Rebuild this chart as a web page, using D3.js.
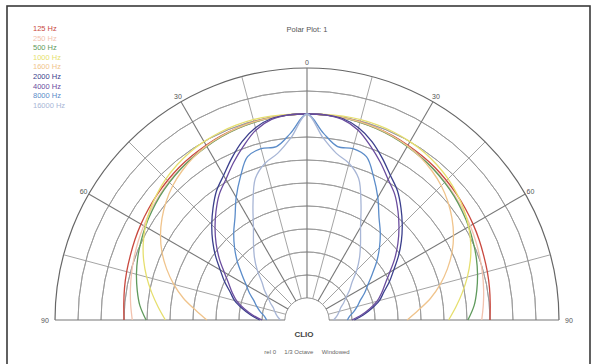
<!DOCTYPE html>
<html><head><meta charset="utf-8">
<script src="https://cdn.jsdelivr.net/npm/d3@7"></script>
<style>html,body{margin:0;padding:0;background:#fff;}svg{display:block;}</style>
</head><body>
<script>
// ---- data ----
const angles = [0,5,10,15,20,25,30,35,40,45,50,55,60,65,70,75,80,85,90];
const seriesNames = ["125 Hz","250 Hz","500 Hz","1000 Hz","1600 Hz","2000 Hz","4000 Hz","8000 Hz","16000 Hz"];
const seriesColors = ["#c9483e","#f2c2ae","#5f9a5c","#e6df6e","#f0c48c","#3b3f8c","#6a4c9e","#5b8cc9","#a8b6d6"];
const db125  = [0,0,-0.1,-0.2,-0.4,-0.6,-0.9,-1.2,-1.5,-1.9,-2.3,-2.7,-3.1,-3.5,-3.9,-4.2,-4.5,-4.8,-5];
const db250  = [0,0,-0.1,-0.3,-0.5,-0.8,-1.1,-1.5,-1.9,-2.3,-2.8,-3.3,-3.8,-4.3,-4.8,-5.3,-5.8,-6.3,-6.8];
const db500  = [0,0,-0.1,-0.3,-0.5,-0.8,-1.2,-1.6,-2,-2.5,-3,-3.6,-4.2,-4.9,-5.6,-6.4,-7.3,-8.3,-9.8];
const db1000 = [0,0.1,0.2,0.3,0.3,0.2,0,-0.3,-0.8,-1.4,-2.2,-3.1,-4.2,-5.5,-7,-8.7,-10.5,-12.3,-14];
const db1600 = [0,0,-0.1,-0.2,-0.4,-0.7,-1.1,-1.7,-2.5,-3.5,-4.8,-6.3,-8,-10,-12.3,-14.8,-17.5,-20.5,-23];
const db2000 = [0,0,-0.3,-1.5,-3.5,-6,-8.5,-10.5,-13,-15.5,-18,-20.5,-23,-25,-27,-28.5,-30.5,-32.5,-34.5];
const db4000 = [0,0,-0.5,-2,-4.5,-7,-9.5,-11.5,-14,-16.5,-19,-21.5,-24,-26,-27.5,-29,-31,-33,-35];
const db8000 = [0,-4,-6.5,-6.2,-7,-10.5,-14,-17.5,-20,-22.5,-25,-27.5,-29.5,-31,-32.5,-33.5,-34.5,-35.5,-36];
const db16000= [0,-5,-8,-9.5,-12,-17,-21.5,-24.5,-27,-29.5,-32,-33.5,-35,-36,-37,-37.5,-38,-38.5,-39];
const seriesValues = [db125,db250,db500,db1000,db1600,db2000,db4000,db8000,db16000];
const ringLevels = [-40,-35,-30,-25,-20,-15,-10,-5,0,5,10];
const spokeAngles = [-90,-75,-60,-45,-30,-15,0,15,30,45,60,75,90];
const angleLabels = [["90",-90],["60",-60],["30",-30],["0",0],["30",30],["60",60],["90",90]];
const titleText = "Polar Plot: 1";
const brandText = "CLIO";
const footerText = "rel 0     1/3 Octave     Windowed";

// ---- layout ----
const W = 596, H = 364;
const cx = 307, cy = 320;
const svg = d3.select("body").append("svg").attr("width", W).attr("height", H)
  .style("font-family", "Liberation Sans, Arial, sans-serif");

svg.append("rect").attr("x", 7).attr("y", 6).attr("width", 583).attr("height", 362)
  .attr("fill", "#fff").attr("stroke", "#3a3a3a").attr("stroke-width", 1.6);

const r = d3.scaleLinear().domain([-40, 10]).range([22, 252]);
const ang = d3.scaleLinear().domain([-90, 90]).range([-Math.PI/2, Math.PI/2]);
const g = svg.append("g").attr("transform", `translate(${cx},${cy})`);

// rings
const arc = d3.arc().startAngle(-Math.PI/2).endAngle(Math.PI/2);
ringLevels.forEach((lv, i) => {
  const rr = r(lv);
  g.append("path").attr("d", arc({innerRadius: rr, outerRadius: rr}))
    .attr("fill", "none")
    .attr("stroke", i === ringLevels.length - 1 ? "#666" : "#9a9a9a")
    .attr("stroke-width", i === ringLevels.length - 1 ? 1.2 : 0.9);
});
// spokes
spokeAngles.forEach(a => {
  const t = ang(a);
  const r0 = r(-40), r1 = r(10);
  g.append("line")
    .attr("x1", r0 * Math.sin(t)).attr("y1", -r0 * Math.cos(t))
    .attr("x2", r1 * Math.sin(t)).attr("y2", -r1 * Math.cos(t))
    .attr("stroke", (a % 30 === 0) ? "#777" : "#9a9a9a")
    .attr("stroke-width", (a % 30 === 0) ? 1.1 : 0.9);
});
// inner hole
g.append("path").attr("d", arc({innerRadius: 0, outerRadius: r(-40) - 0.5}))
  .attr("fill", "#fff");

// curves
const line = d3.lineRadial()
  .angle(d => ang(d[0])).radius(d => r(d[1]))
  .curve(d3.curveCatmullRom.alpha(0.5));
seriesValues.forEach((vals, i) => {
  const pts = [];
  for (let k = angles.length - 1; k >= 0; k--) pts.push([-angles[k], vals[k]]);
  for (let k = 1; k < angles.length; k++) pts.push([angles[k], vals[k]]);
  g.append("path").attr("d", line(pts)).attr("fill", "none")
    .attr("stroke", seriesColors[i]).attr("stroke-width", 1.3);
});

// angle labels
angleLabels.forEach(([txt, a]) => {
  const t = ang(a);
  const rr = r(10) + (Math.abs(a) === 90 ? 10 : 6);
  g.append("text").attr("x", rr * Math.sin(t)).attr("y", -rr * Math.cos(t) + 2.5)
    .attr("text-anchor", "middle").attr("font-size", 7).attr("fill", "#555").text(txt);
});

// legend
seriesNames.forEach((n, i) => {
  svg.append("text").attr("x", 33).attr("y", 31 + i * 9.6)
    .attr("font-size", 7.5).attr("fill", seriesColors[i]).text(n);
});

svg.append("text").attr("x", cx).attr("y", 32).attr("text-anchor", "middle")
  .attr("font-size", 7.5).attr("fill", "#555").text(titleText);
svg.append("text").attr("x", cx - 3).attr("y", 337).attr("text-anchor", "middle")
  .attr("font-size", 8).attr("font-weight", "bold").attr("fill", "#444").text(brandText);
svg.append("text").attr("x", cx).attr("y", 354).attr("text-anchor", "middle")
  .attr("font-size", 6).attr("fill", "#666").attr("xml:space", "preserve").style("white-space", "pre").text(footerText);
</script>
</body></html>
